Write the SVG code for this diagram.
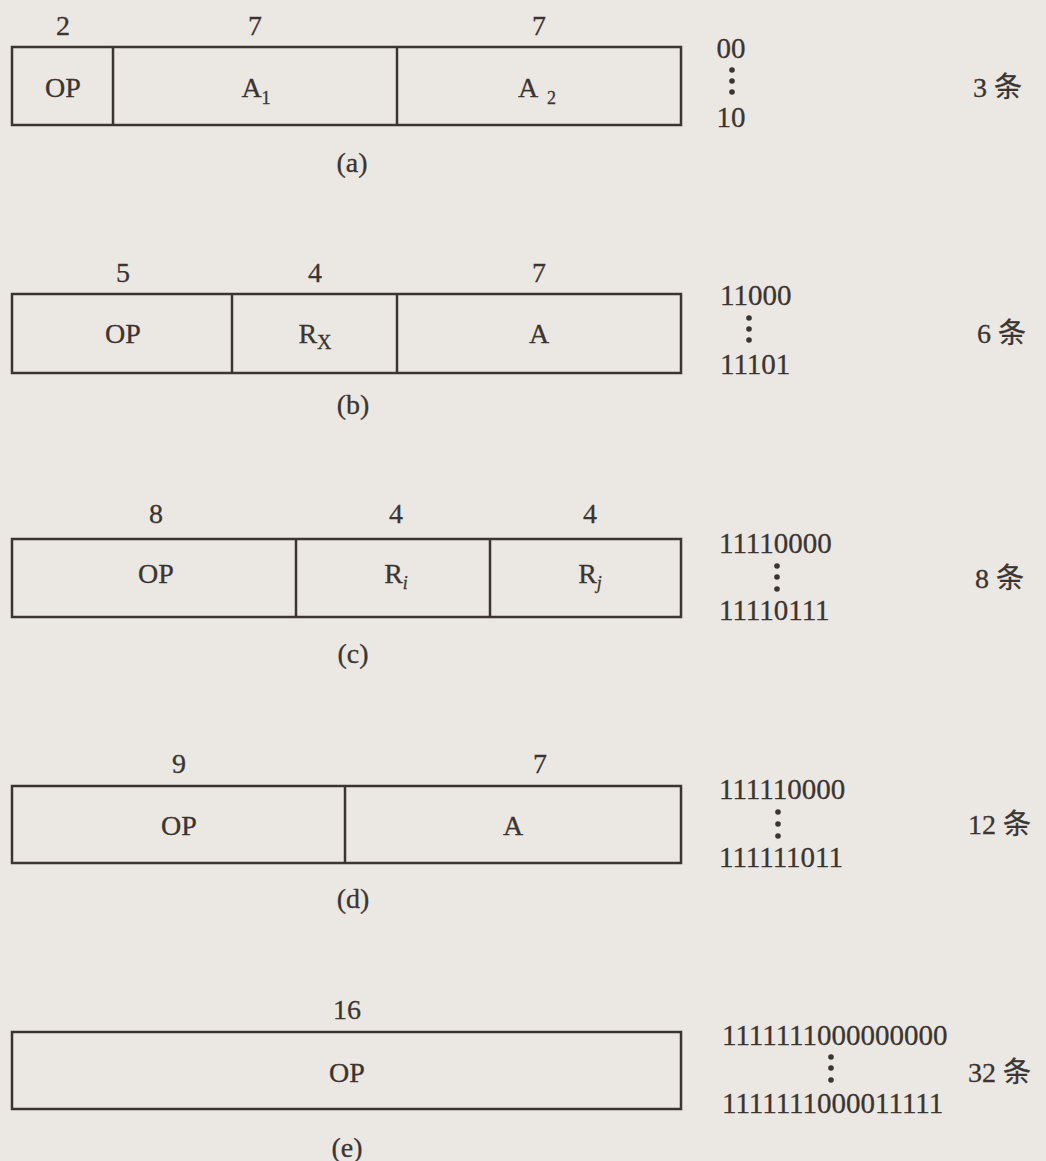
<svg xmlns="http://www.w3.org/2000/svg" width="1046" height="1161" viewBox="0 0 1046 1161">
<style>
.bg{fill:#ebe8e4}
.box{fill:none;stroke:#3b3431;stroke-width:2.5}
.div{stroke:#3b3431;stroke-width:2.5}
text{font-family:"Liberation Serif","Noto Sans CJK SC",serif;font-size:28px;fill:#3b3431;stroke:#3b3431;stroke-width:0.3}
.m{text-anchor:middle}
.code{font-size:29px}
.sub{font-size:18px}
.dot{fill:#3b3431}
</style>
<rect class="bg" x="0" y="0" width="1046" height="1161"/>

<g id="format-a">
<rect class="box" x="12" y="47" width="669" height="78"/>
<line class="div" x1="113" y1="47" x2="113" y2="125"/>
<line class="div" x1="397" y1="47" x2="397" y2="125"/>
<text class="m" x="63" y="35">2</text>
<text class="m" x="255" y="35">7</text>
<text class="m" x="539" y="35">7</text>
<text class="m" x="63" y="97">OP</text>
<text class="m" x="256" y="97">A<tspan class="sub" dy="7">1</tspan></text>
<text class="m" x="537" y="97">A<tspan class="sub" dx="9" dy="7">2</tspan></text>
<text class="m" x="352" y="172">(a)</text>
<text class="m code" x="731" y="58">00</text>
<circle class="dot" cx="732" cy="70" r="2.8"/>
<circle class="dot" cx="732" cy="81" r="2.8"/>
<circle class="dot" cx="732" cy="92" r="2.8"/>
<text class="m code" x="731" y="127">10</text>
<text x="973" y="97">3 条</text>
</g>

<g id="format-b">
<rect class="box" x="12" y="294" width="669" height="79"/>
<line class="div" x1="232" y1="294" x2="232" y2="373"/>
<line class="div" x1="397" y1="294" x2="397" y2="373"/>
<text class="m" x="123" y="282">5</text>
<text class="m" x="315" y="282">4</text>
<text class="m" x="539" y="282">7</text>
<text class="m" x="123" y="343">OP</text>
<text class="m" x="315" y="343">R<tspan font-size="20" dy="6">X</tspan></text>
<text class="m" x="539" y="343">A</text>
<text class="m" x="353" y="414">(b)</text>
<text class="code" x="720" y="305">11000</text>
<circle class="dot" cx="749" cy="318" r="2.8"/>
<circle class="dot" cx="749" cy="329" r="2.8"/>
<circle class="dot" cx="749" cy="340" r="2.8"/>
<text class="code" x="720" y="374">11101</text>
<text x="977" y="343">6 条</text>
</g>

<g id="format-c">
<rect class="box" x="12" y="539" width="669" height="78"/>
<line class="div" x1="296" y1="539" x2="296" y2="617"/>
<line class="div" x1="490" y1="539" x2="490" y2="617"/>
<text class="m" x="156" y="523">8</text>
<text class="m" x="396" y="523">4</text>
<text class="m" x="590" y="523">4</text>
<text class="m" x="156" y="583">OP</text>
<text class="m" x="396" y="583">R<tspan class="sub" font-style="italic" dy="6">i</tspan></text>
<text class="m" x="590" y="583">R<tspan class="sub" font-style="italic" dy="6">j</tspan></text>
<text class="m" x="353" y="663">(c)</text>
<text class="code" x="719" y="553">11110000</text>
<circle class="dot" cx="777" cy="566" r="2.8"/>
<circle class="dot" cx="777" cy="577" r="2.8"/>
<circle class="dot" cx="777" cy="589" r="2.8"/>
<text class="code" x="719" y="620">11110111</text>
<text x="975" y="588">8 条</text>
</g>

<g id="format-d">
<rect class="box" x="12" y="786" width="669" height="77"/>
<line class="div" x1="345" y1="786" x2="345" y2="863"/>
<text class="m" x="179" y="773">9</text>
<text class="m" x="540" y="773">7</text>
<text class="m" x="179" y="835">OP</text>
<text class="m" x="513" y="835">A</text>
<text class="m" x="353" y="908">(d)</text>
<text class="code" x="719" y="799">111110000</text>
<circle class="dot" cx="778" cy="812" r="2.8"/>
<circle class="dot" cx="778" cy="824" r="2.8"/>
<circle class="dot" cx="778" cy="836" r="2.8"/>
<text class="code" x="719" y="867">111111011</text>
<text x="968" y="834">12 条</text>
</g>

<g id="format-e">
<rect class="box" x="12" y="1032" width="669" height="77"/>
<text class="m" x="347" y="1019">16</text>
<text class="m" x="347" y="1082">OP</text>
<text class="m" x="347" y="1157">(e)</text>
<text class="code" x="722" y="1045">1111111000000000</text>
<circle class="dot" cx="831" cy="1057" r="2.8"/>
<circle class="dot" cx="831" cy="1068" r="2.8"/>
<circle class="dot" cx="831" cy="1080" r="2.8"/>
<text class="code" x="722" y="1113">1111111000011111</text>
<text x="968" y="1082">32 条</text>
</g>
</svg>
